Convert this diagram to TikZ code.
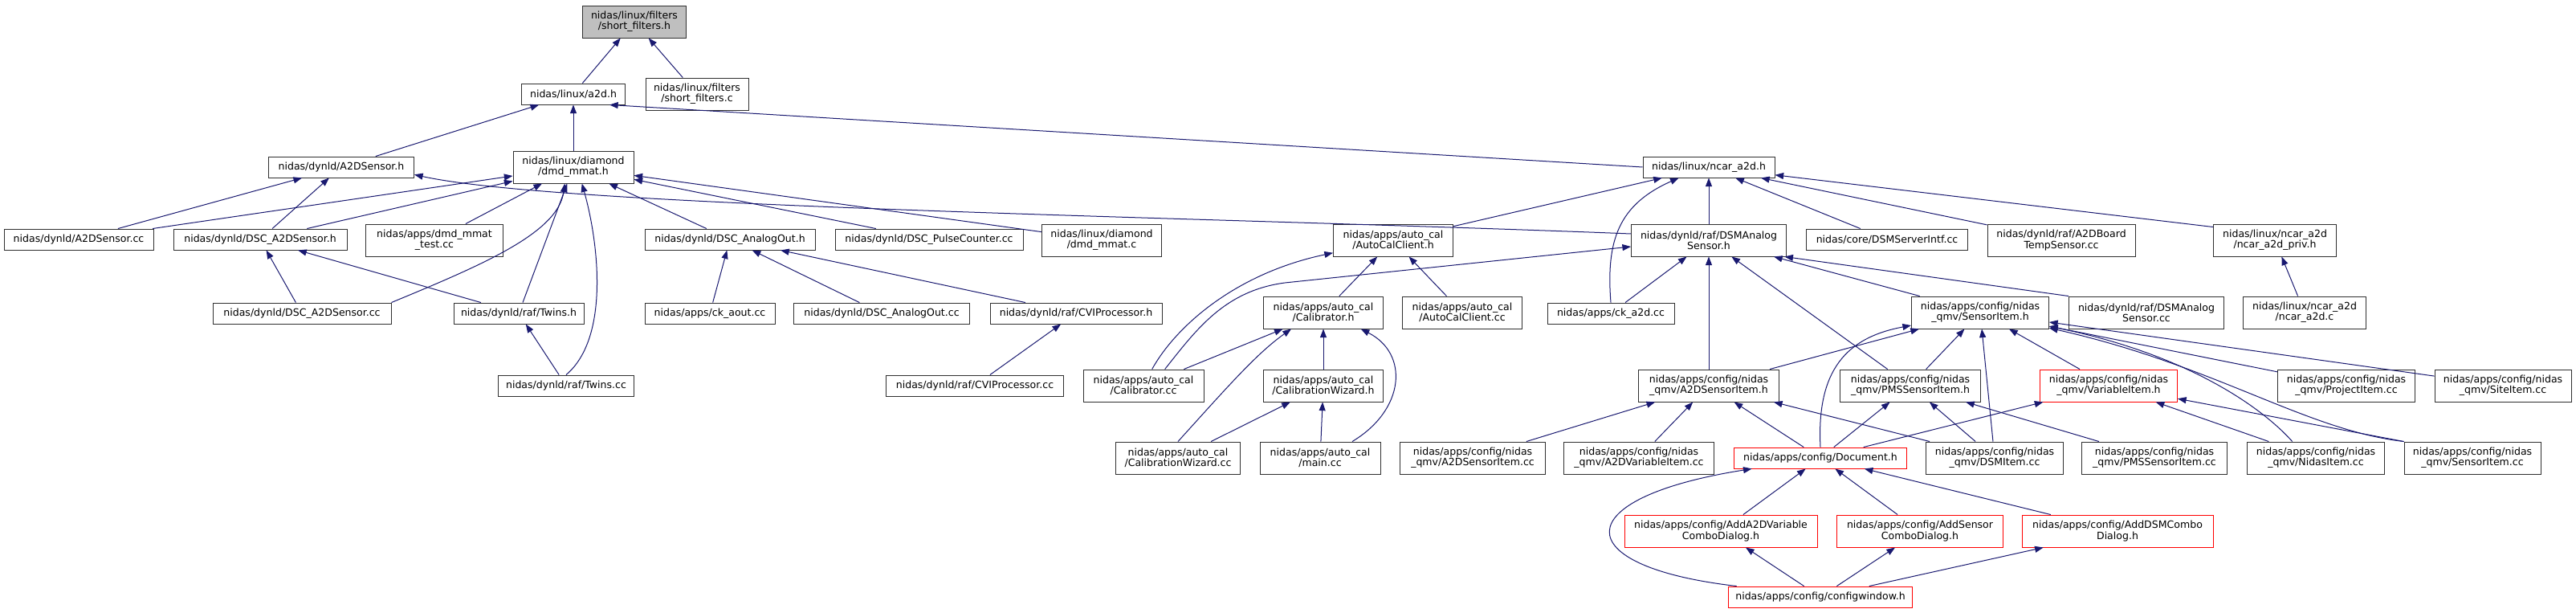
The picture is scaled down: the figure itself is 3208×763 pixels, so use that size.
\documentclass[tikz,border=0pt]{standalone}
\usepackage{fontspec}
\setmainfont{DejaVu Sans}
\usepackage{xcolor}
\usetikzlibrary{positioning,arrows.meta}
\definecolor{edgeblue}{RGB}{25, 25, 112}
\definecolor{rootgray}{RGB}{191, 191, 191}
\definecolor{trunc}{RGB}{255, 0, 0}
\definecolor{border}{RGB}{48, 48, 48}

\begin{document}
\begin{tikzpicture}[
  x=0.75pt, y=-0.75pt,
  file/.style = {rectangle, draw=border, fill=white, line width=0.7pt,
                 align=center, inner xsep=2pt, inner ysep=1pt,
                 minimum height=19.5pt, font=\fontsize{9.4}{10}\selectfont},
  two/.style  = {minimum height=30pt},
  wd/.style   = {minimum width=#1*0.75pt},
  root/.style = {file, two, fill=rootgray},
  cut/.style  = {file, draw=trunc},
  dep/.style  = {-{Triangle[length=8pt,width=6pt]}, line width=0.75pt, color=edgeblue}
]
  \useasboundingbox (0,0) rectangle (3208,763);

  % ---- Level 0: the header itself ----
  \node[root, wd=129] at (790,27) (sfh) {nidas/linux/filters\\/short\_filters.h};

  % ---- Level 1 ----
  \node[file, wd=129]      at (714,117) (a2dh) {nidas/linux/a2d.h};
  \node[file, two, wd=128] at (868,117) (sfc)  {nidas/linux/filters\\/short\_filters.c};

  % ---- Level 2 ----
  \node[file, wd=181]      at (425,208)  (a2dsh) {nidas/dynld/A2DSensor.h};
  \node[file, two, wd=150] at (714,208)  (dmdh)  {nidas/linux/diamond\\/dmd\_mmat.h};
  \node[file, wd=164]      at (2128,208) (ncarh) {nidas/linux/ncar\_a2d.h};

  % ---- Level 3 ----
  \node[file, wd=186]      at (98,298)   (a2dscc)  {nidas/dynld/A2DSensor.cc};
  \node[file, wd=216]      at (324,298)  (dsch)    {nidas/dynld/DSC\_A2DSensor.h};
  \node[file, two, wd=171] at (541,299)  (dmdtest) {nidas/apps/dmd\_mmat\\\_test.cc};
  \node[file, wd=212]      at (909,298)  (aoh)     {nidas/dynld/DSC\_AnalogOut.h};
  \node[file, wd=234]      at (1157,298) (pulse)   {nidas/dynld/DSC\_PulseCounter.cc};
  \node[file, two, wd=149] at (1372,299) (dmdc)    {nidas/linux/diamond\\/dmd\_mmat.c};
  \node[file, two, wd=149] at (1735,299) (acch)    {nidas/apps/auto\_cal\\/AutoCalClient.h};
  \node[file, two, wd=193] at (2128,299) (dsmah)   {nidas/dynld/raf/DSMAnalog\\Sensor.h};
  \node[file, wd=201]      at (2350,298) (srvcc)   {nidas/core/DSMServerIntf.cc};
  \node[file, two, wd=184] at (2567,299) (tempcc)  {nidas/dynld/raf/A2DBoard\\TempSensor.cc};
  \node[file, two, wd=153] at (2833,299) (privh)   {nidas/linux/ncar\_a2d\\/ncar\_a2d\_priv.h};

  % ---- Level 4 ----
  \node[file, wd=222]      at (376,390)  (dsccc)  {nidas/dynld/DSC\_A2DSensor.cc};
  \node[file, wd=162]      at (646,390)  (twinsh) {nidas/dynld/raf/Twins.h};
  \node[file, wd=162]      at (884,390)  (ckaout) {nidas/apps/ck\_aout.cc};
  \node[file, wd=219]      at (1098,390) (aocc)   {nidas/dynld/DSC\_AnalogOut.cc};
  \node[file, wd=214]      at (1340,390) (cvih)   {nidas/dynld/raf/CVIProcessor.h};
  \node[file, two, wd=149] at (1648,389) (calh)   {nidas/apps/auto\_cal\\/Calibrator.h};
  \node[file, two, wd=149] at (1821,389) (acccc)  {nidas/apps/auto\_cal\\/AutoCalClient.cc};
  \node[file, wd=158]      at (2006,390) (cka2d)  {nidas/apps/ck\_a2d.cc};
  \node[file, two, wd=171] at (2466,389) (sih)    {nidas/apps/config/nidas\\\_qmv/SensorItem.h};
  \node[file, two, wd=193] at (2673,389) (dsmacc) {nidas/dynld/raf/DSMAnalog\\Sensor.cc};
  \node[file, two, wd=153] at (2870,389) (ncarc)  {nidas/linux/ncar\_a2d\\/ncar\_a2d.c};

  % ---- Level 5 ----
  \node[file, wd=169]      at (705,480)  (twinscc) {nidas/dynld/raf/Twins.cc};
  \node[file, wd=221]      at (1214,480) (cvicc)   {nidas/dynld/raf/CVIProcessor.cc};
  \node[file, two, wd=150] at (1424,480) (calcc)   {nidas/apps/auto\_cal\\/Calibrator.cc};
  \node[file, two, wd=149] at (1648,480) (wizh)    {nidas/apps/auto\_cal\\/CalibrationWizard.h};
  \node[file, two, wd=175] at (2128,480) (asih)    {nidas/apps/config/nidas\\\_qmv/A2DSensorItem.h};
  \node[file, two, wd=175] at (2379,480) (pmsh)    {nidas/apps/config/nidas\\\_qmv/PMSSensorItem.h};
  \node[cut, two, wd=171]  at (2626,480) (varh)    {nidas/apps/config/nidas\\\_qmv/VariableItem.h};
  \node[file, two, wd=171] at (2922,480) (projcc)  {nidas/apps/config/nidas\\\_qmv/ProjectItem.cc};
  \node[file, two, wd=170] at (3117,480) (sitecc)  {nidas/apps/config/nidas\\\_qmv/SiteItem.cc};

  % ---- Level 6 ----
  \node[file, two, wd=155] at (1467,570) (wizcc)  {nidas/apps/auto\_cal\\/CalibrationWizard.cc};
  \node[file, two, wd=150] at (1644,570) (maincc) {nidas/apps/auto\_cal\\/main.cc};
  \node[file, two, wd=181] at (1834,570) (asicc)  {nidas/apps/config/nidas\\\_qmv/A2DSensorItem.cc};
  \node[file, two, wd=187] at (2041,570) (avicc)  {nidas/apps/config/nidas\\\_qmv/A2DVariableItem.cc};
  \node[cut, wd=215]       at (2267,570) (doch)   {nidas/apps/config/Document.h};
  \node[file, two, wd=171] at (2484,570) (dsmicc) {nidas/apps/config/nidas\\\_qmv/DSMItem.cc};
  \node[file, two, wd=181] at (2683,570) (pmscc)  {nidas/apps/config/nidas\\\_qmv/PMSSensorItem.cc};
  \node[file, two, wd=171] at (2884,570) (nidcc)  {nidas/apps/config/nidas\\\_qmv/NidasItem.cc};
  \node[file, two, wd=170] at (3079,570) (sicc)   {nidas/apps/config/nidas\\\_qmv/SensorItem.cc};

  % ---- Level 7: dialogs ----
  \node[cut, two, wd=240] at (2143,661) (a2dvdlg) {nidas/apps/config/AddA2DVariable\\ComboDialog.h};
  \node[cut, two, wd=207] at (2391,661) (sensdlg) {nidas/apps/config/AddSensor\\ComboDialog.h};
  \node[cut, two, wd=238] at (2637,661) (dsmdlg)  {nidas/apps/config/AddDSMCombo\\Dialog.h};

  % ---- Level 8 ----
  \node[cut, wd=229] at (2267,743) (cfgwin) {nidas/apps/config/configwindow.h};

  % ---- Arrows: includer -> included ----
  \draw[dep] (a2dh) -- (sfh);
  \draw[dep] (sfc)  -- (sfh);
  \draw[dep] (a2dsh) -- (a2dh);
  \draw[dep] (dmdh)  -- (a2dh);
  \draw[dep] (ncarh.west) -- ([xshift=-15pt]a2dh.south east);

  \draw[dep] (a2dscc) -- (a2dsh);
  \draw[dep] (dsch)   -- (a2dsh);
  \draw[dep] ([yshift=6pt]dsmah.west) .. controls (1500,270) and (700,258) .. ([yshift=-7pt]a2dsh.east);

  \draw[dep] (a2dscc)  -- (dmdh);
  \draw[dep] (dsch)    -- (dmdh);
  \draw[dep] (dmdtest) -- (dmdh);
  \draw[dep] (dsccc.north east) .. controls (600,330) and (695,290) .. ([xshift=-8pt]dmdh.south);
  \draw[dep] (twinsh)  -- (dmdh);
  \draw[dep] (twinscc.north) .. controls (760,420) and (745,300) .. ([xshift=8pt]dmdh.south);
  \draw[dep] (aoh)     -- (dmdh);
  \draw[dep] (pulse)   -- (dmdh);
  \draw[dep] (dmdc)    -- (dmdh);

  \draw[dep] (dsccc)   -- (dsch);
  \draw[dep] (twinsh)  -- (dsch);
  \draw[dep] (twinscc) -- (twinsh);
  \draw[dep] (ckaout)  -- (aoh);
  \draw[dep] (aocc)    -- (aoh);
  \draw[dep] (cvih)    -- (aoh);
  \draw[dep] (cvicc)   -- (cvih);

  % ---- ncar_a2d.h ----
  \draw[dep] (acch)  -- (ncarh);
  \draw[dep] (cka2d.north) .. controls (2000,300) and (2015,255) .. ([xshift=-28pt]ncarh.south);
  \draw[dep] (dsmah)  -- (ncarh);
  \draw[dep] (srvcc)  -- (ncarh);
  \draw[dep] (tempcc) -- (ncarh);
  \draw[dep] ([yshift=-3pt]privh.north west) -- (ncarh);
  \draw[dep] (ncarc)  -- (privh);

  % ---- auto_cal ----
  \draw[dep] ([xshift=8pt]calcc.north) .. controls (1465,405) and (1540,340) .. (acch);
  \draw[dep] (calh)  -- (acch);
  \draw[dep] (acccc) -- (acch);
  \draw[dep] ([xshift=20pt]calcc.north) .. controls (1490,410) and (1525,362) .. (1600,352)
             -- ([yshift=-6pt]dsmah.west);
  \draw[dep] (calcc) -- (calh);
  \draw[dep] (wizcc.north) .. controls (1530,480) and (1565,440) .. ([xshift=-30pt]calh.south);
  \draw[dep] (wizh)  -- (calh);
  \draw[dep] ([xshift=30pt]maincc.north) .. controls (1750,510) and (1755,440) .. ([xshift=35pt]calh.south);
  \draw[dep] (wizcc)  -- (wizh);
  \draw[dep] (maincc) -- (wizh);

  % ---- DSMAnalogSensor.h ----
  \draw[dep] (cka2d) -- (dsmah);
  \draw[dep] (asih)  -- (dsmah);
  \draw[dep] (pmsh)  -- (dsmah);
  \draw[dep] ([xshift=8pt]sih.north west) -- ([xshift=-12pt]dsmah.south east);
  \draw[dep] (dsmacc.north west) -- ([xshift=-2pt]dsmah.south east);

  % ---- SensorItem.h ----
  \draw[dep] (asih)   -- (sih);
  \draw[dep] (pmsh)   -- (sih);
  \draw[dep] (varh)   -- (sih);
  \draw[dep] (doch.north) .. controls (2262,460) and (2300,420) .. (sih);
  \draw[dep] (dsmicc) -- (sih);
  \draw[dep] (projcc) -- (sih);
  \draw[dep] (sitecc) -- (sih);
  \draw[dep] ([xshift=-22pt]nidcc.north) .. controls (2815,505) and (2720,440) .. (sih);
  \draw[dep] (sicc.north west) .. controls (2870,535) and (2760,455) .. (sih);

  % ---- A2DSensorItem.h, PMSSensorItem.h, VariableItem.h ----
  \draw[dep] (asicc)  -- (asih);
  \draw[dep] (avicc)  -- (asih);
  \draw[dep] (doch)   -- (asih);
  \draw[dep] (dsmicc) -- (asih);
  \draw[dep] (doch)   -- (pmsh);
  \draw[dep] (dsmicc) -- (pmsh);
  \draw[dep] (pmscc)  -- (pmsh);
  \draw[dep] (doch)   -- (varh);
  \draw[dep] (nidcc)  -- (varh);
  \draw[dep] (sicc.north west) -- (varh);

  % ---- Document.h and dialogs ----
  \draw[dep] (a2dvdlg) -- (doch);
  \draw[dep] (sensdlg) -- (doch);
  \draw[dep] (dsmdlg)  -- (doch);
  \draw[dep] ([xshift=8pt]cfgwin.north west) .. controls (1950,705) and (1950,620) .. (doch);
  \draw[dep] (cfgwin) -- (a2dvdlg);
  \draw[dep] (cfgwin) -- (sensdlg);
  \draw[dep] (cfgwin) -- (dsmdlg);
\end{tikzpicture}
\end{document}
